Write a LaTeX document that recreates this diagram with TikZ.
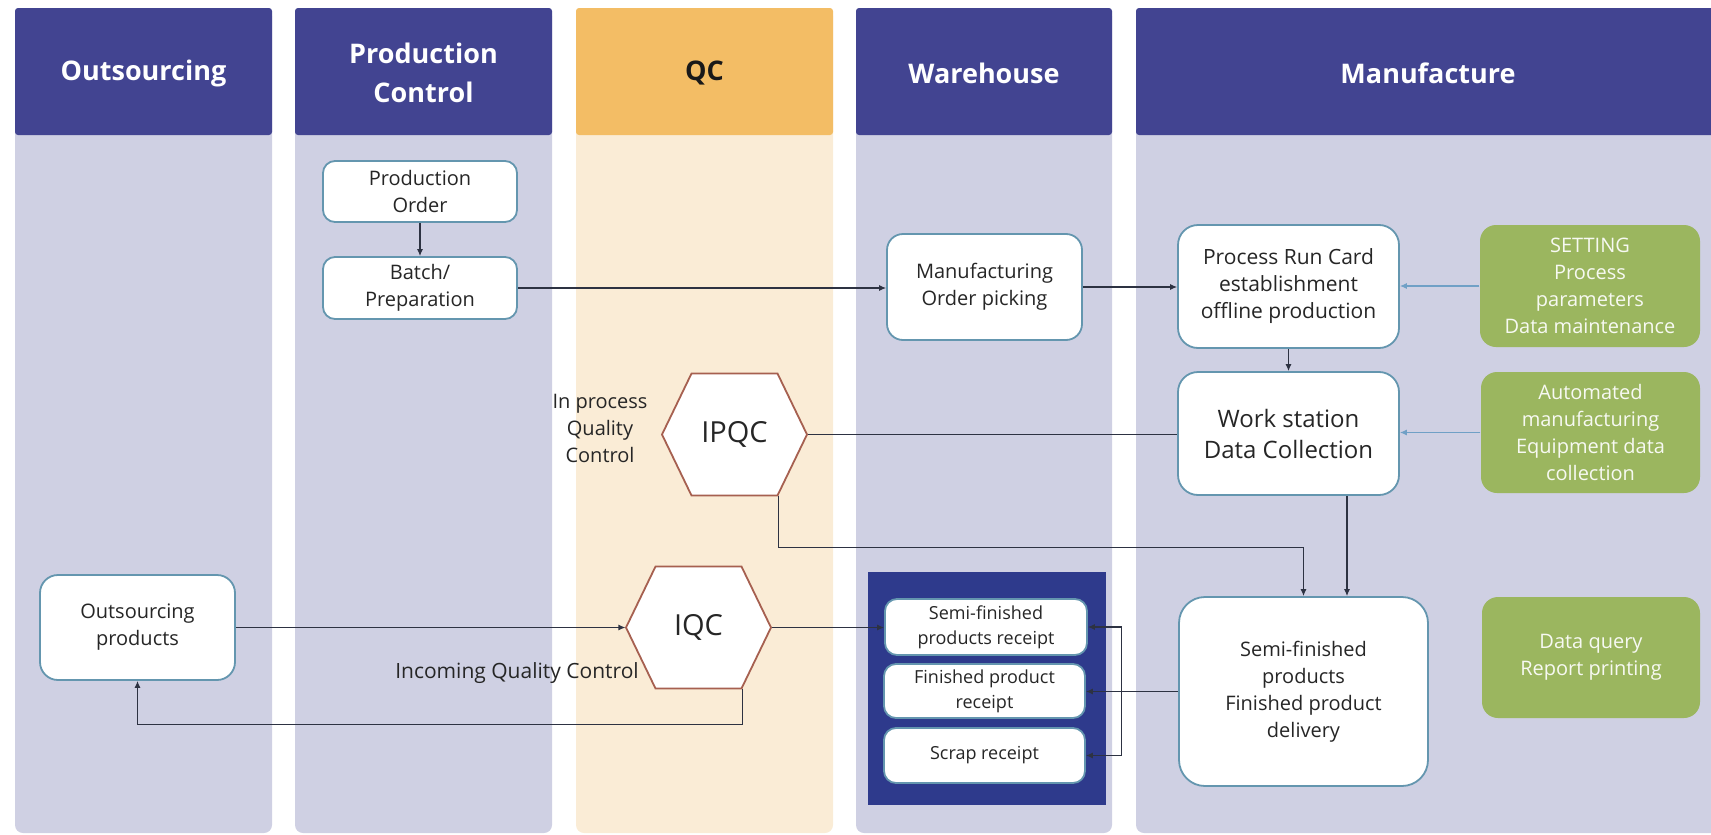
\documentclass[tikz,border=0pt]{standalone}
\usepackage{fontspec}
\setmainfont{Open Sans}
\usetikzlibrary{positioning}
\usetikzlibrary{arrows.meta}
\definecolor{headblue}{RGB}{66,68,145}
\definecolor{lanebg}{RGB}{207,208,227}
\definecolor{qchead}{RGB}{243,189,101}
\definecolor{qcbg}{RGB}{250,236,214}
\definecolor{boxline}{RGB}{100,150,175}
\definecolor{leaf}{RGB}{155,182,95}
\definecolor{whblue}{RGB}{46,58,140}
\definecolor{hexline}{RGB}{166,96,80}
\definecolor{flow}{RGB}{45,50,66}
\definecolor{feed}{RGB}{112,160,198}
\newcommand{\hexagon}[1]% center
{(#1) ++(-72.5,0) -- ++(29.5,-61) -- ++(86,0) -- ++(29.5,61) -- ++(-29.5,61) -- ++(-86,0) -- cycle
}
\newcommand{\lanebody}[2]% left x, right x
{(#1,8) rectangle (#2,833)
}
\newcommand{\lanehead}[2]% left x, right x
{(#1,8) rectangle (#2,135)
}

\begin{document}
\begin{tikzpicture}[x=1pt,y=-1pt,line width=1.1pt] % whole chart, pixel units
\tikzstyle{headtext}=[text=white,font=\fontsize{27}{39}\selectfont\bfseries,align=center]
\tikzstyle{box}=[draw=boxline,line width=1.8pt,fill=white,rounded corners=12pt,align=center,inner sep=0pt,text=black!85,font=\fontsize{20}{27}\selectfont]
\tikzstyle{param}=[fill=leaf,rounded corners=16pt,align=center,inner sep=0pt,text=white!92!leaf,font=\fontsize{20}{27}\selectfont]
\tikzstyle{hexa}=[draw=hexline,line width=1.8pt,fill=white]
\tikzstyle{hextext}=[minimum width=145,minimum height=122,inner sep=0pt,text=black!85,font=\fontsize{29}{34}\selectfont]
\tikzstyle{note}=[align=center,text=black!85,font=\fontsize{20}{27}\selectfont]
\tikzstyle{arr}=[draw=flow,-{Latex[length=7pt,width=6pt]}]
\tikzstyle{feedarr}=[draw=feed,-{Latex[length=7pt,width=6pt]}]

\useasboundingbox (0,0) rectangle (1711,835);
\clip (0,0) rectangle (1711,835);

% lanes
\fill[lanebg,rounded corners=8pt] \lanebody{15}{272}; % Outsourcing
\fill[lanebg,rounded corners=8pt] \lanebody{295}{552}; % Production Control
\fill[qcbg,rounded corners=8pt] \lanebody{576}{833}; % QC
\fill[lanebg,rounded corners=8pt] \lanebody{856}{1112}; % Warehouse
\fill[lanebg,rounded corners=8pt] \lanebody{1136}{1725}; % Manufacture, runs off the edge
\fill[headblue,rounded corners=3pt] \lanehead{15}{272};
\fill[headblue,rounded corners=3pt] \lanehead{295}{552};
\fill[qchead,rounded corners=3pt] \lanehead{576}{833};
\fill[headblue,rounded corners=3pt] \lanehead{856}{1112};
\fill[headblue,rounded corners=3pt] \lanehead{1136}{1725};

\draw (143.5,73) node[headtext] (hout) {Outsourcing};
\draw (423.5,73) node[headtext] (hpc) {Production\\Control};
\draw (704.5,73) node[headtext,text=black!90] (hqc) {QC};
\draw (984,73) node[headtext] (hwh) {Warehouse};
\draw (1428,73) node[headtext] (hmf) {Manufacture};

% Production Control
\draw (420,191.5) node[box,minimum width=194,minimum height=61] (order) {Production\\Order};
\draw (420,288) node[box,minimum width=194,minimum height=62] (batch) {Batch/\\Preparation};

% Warehouse
\draw (984.5,287) node[box,minimum width=195,minimum height=106,rounded corners=16pt] (picking) {Manufacturing\\Order picking};
\fill[whblue] (868,572) rectangle (1106,805); % receipt block
\draw (986,627) node[box,minimum width=202,minimum height=56,font=\fontsize{18}{25}\selectfont] (semirec) {Semi-finished\\products receipt};
\draw (984.5,691) node[box,minimum width=201,minimum height=54,font=\fontsize{18}{25}\selectfont] (finrec) {Finished product\\receipt};
\draw (984.5,755.5) node[box,minimum width=201,minimum height=55,font=\fontsize{18}{25}\selectfont] (scraprec) {Scrap receipt};

% Manufacture
\draw (1288.5,286.5) node[box,minimum width=221,minimum height=123,rounded corners=20pt,font=\fontsize{21}{27}\selectfont] (runcard) {Process Run Card\\establishment\\offline production};
\draw (1288.5,433.5) node[box,minimum width=221,minimum height=123,rounded corners=20pt,font=\fontsize{24}{31}\selectfont] (workst) {Work station\\Data Collection};
\draw (1303.5,691.5) node[box,minimum width=249,minimum height=189,rounded corners=26pt] (delivery) {Semi-finished\\products\\Finished product\\delivery};
\draw (1590,286) node[param,minimum width=220,minimum height=122] (setting) {SETTING\\Process\\parameters\\Data maintenance};
\draw (1590.5,432.5) node[param,minimum width=219,minimum height=121] (automated) {Automated\\manufacturing\\Equipment data\\collection};
\draw (1591,657.5) node[param,minimum width=218,minimum height=121] (query) {Data query\\Report printing};

% Outsourcing
\draw (137.5,627.5) node[box,minimum width=195,minimum height=105,rounded corners=18pt] (outprod) {Outsourcing\\products};

% QC
\draw[hexa] \hexagon{734.5,434.5}; % IPQC outline
\draw (734.5,434.5) node[hextext] (ipqc) {IPQC};
\draw[hexa] \hexagon{698.5,627.5}; % IQC outline
\draw (698.5,627.5) node[hextext] (iqc) {IQC};
\draw (600,428) node[note] (ipqclabel) {In process\\Quality\\Control};
\draw (517,673) node[note,font=\fontsize{21}{27}\selectfont] (iqclabel) {Incoming Quality Control};

% flows
\draw[arr] (order) -- (batch);
\draw[arr] (batch.east) -- (batch.east -| picking.west);
\draw[arr] (picking.east) -- (picking.east -| runcard.west);
\draw[arr] (runcard) -- (workst);
\draw[feedarr] (setting.west) -- (setting.west -| runcard.east);
\draw[feedarr] (automated.west) -- (automated.west -| workst.east);
\draw[draw=flow] (ipqc.east) -- (ipqc.east -| workst.west);
\draw[arr] ([xshift=-29.5pt]ipqc.south east) -- ++(0,51) -| (delivery.north);
\draw[arr] ([xshift=58.5pt]workst.south) -- ([xshift=58.5pt]workst.south |- delivery.north);
\draw[arr] (outprod.east) -- (outprod.east -| iqc.west);
\draw[arr] (iqc.east) -- (iqc.east -| semirec.west);
\draw[arr] ([xshift=-29.5pt]iqc.south east) -- ++(0,35) -| (outprod.south);
\draw[arr] (delivery.west) -- (delivery.west -| finrec.east);
\coordinate (split) at ([xshift=-57pt]delivery.west); % bracket to the receipts
\draw[arr] (split) |- (semirec.east);
\draw[arr] (split) |- (scraprec.east);
\end{tikzpicture}
\end{document}
